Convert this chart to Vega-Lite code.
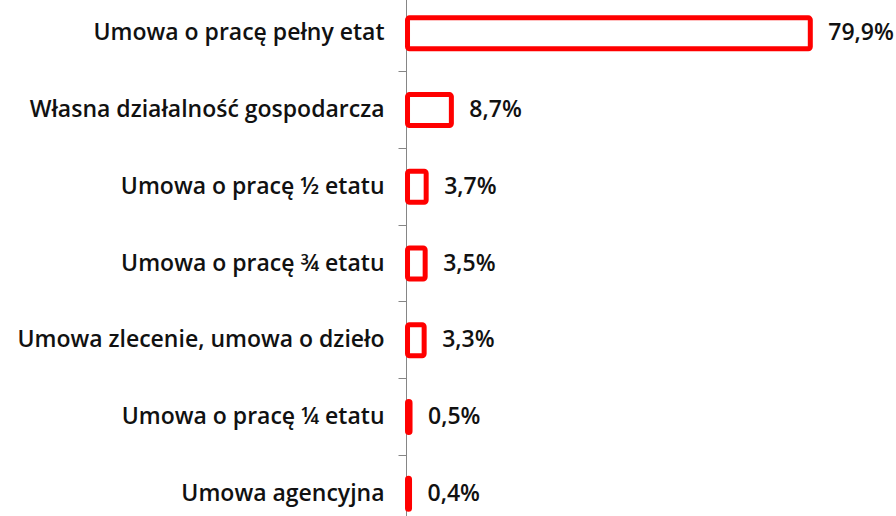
{
  "$schema": "https://vega.github.io/schema/vega-lite/v6.json",
  "width": 490,
  "height": 537,
  "autosize": {"type": "none"},
  "padding": {"left": 406, "top": -5, "right": 0, "bottom": 0},
  "background": "white",
  "config": {"view": {"stroke": null}},
  "data": {
    "values": [
      {"kategoria": "Umowa o pracę pełny etat", "wartosc": 79.9, "etykieta": "79,9%"},
      {"kategoria": "Własna działalność gospodarcza", "wartosc": 8.7, "etykieta": "8,7%"},
      {"kategoria": "Umowa o pracę ½ etatu", "wartosc": 3.7, "etykieta": "3,7%"},
      {"kategoria": "Umowa o pracę ¾ etatu", "wartosc": 3.5, "etykieta": "3,5%"},
      {"kategoria": "Umowa zlecenie, umowa o dzieło", "wartosc": 3.3, "etykieta": "3,3%"},
      {"kategoria": "Umowa o pracę ¼ etatu", "wartosc": 0.5, "etykieta": "0,5%"},
      {"kategoria": "Umowa agencyjna", "wartosc": 0.4, "etykieta": "0,4%"}
    ]
  },
  "encoding": {
    "y": {
      "field": "kategoria",
      "type": "nominal",
      "sort": null,
      "scale": {"paddingInner": 0, "paddingOuter": 0},
      "axis": {
        "title": null,
        "bandPosition": 0,
        "domainColor": "#868686",
        "domainWidth": 1,
        "tickColor": "#868686",
        "tickSize": 8,
        "tickWidth": 1,
        "labelPadding": 14,
        "labelFont": "Open Sans",
        "labelFontWeight": 600,
        "labelFontSize": 23,
        "labelColor": "#111111",
        "labelLimit": 0
      }
    },
    "x": {
      "field": "wartosc",
      "type": "quantitative",
      "scale": {"domain": [-0.3, 96.9], "nice": false, "zero": false},
      "axis": null
    }
  },
  "layer": [
    {
      "mark": {"type": "bar", "size": 31, "fill": "white", "stroke": "#ff0000", "strokeWidth": 5, "cornerRadius": 2},
      "encoding": {"x2": {"datum": 0}}
    },
    {
      "mark": {"type": "text", "align": "left", "baseline": "middle", "dx": 18, "font": "Open Sans", "fontWeight": 600, "fontSize": 23, "color": "#111111"},
      "encoding": {"text": {"field": "etykieta"}}
    }
  ]
}
